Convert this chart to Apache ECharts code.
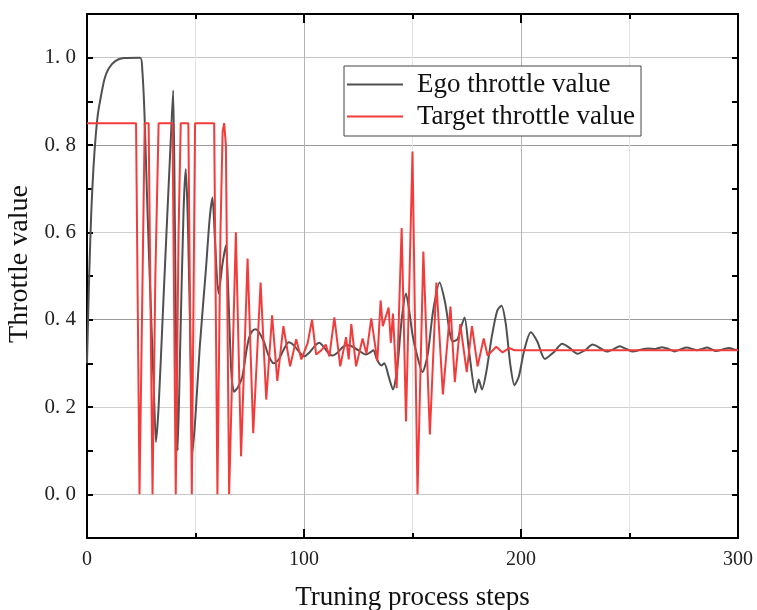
<!DOCTYPE html>
<html>
<head>
<meta charset="utf-8">
<script src="https://cdn.jsdelivr.net/npm/echarts@6/dist/echarts.min.js"></script>
<style>html,body{margin:0;padding:0;background:#fff;}#c{width:757px;height:610px;}</style>
</head>
<body>
<div id="c"></div>
<script>
// ---- data ----
const egoSteps = [0,1,2,3,4,5,6,8,10,13,17,24.5,25.5,26.5,27.8,29.4,30.8,31.8,33,35,37,38.5,39.7,40.5,41.8,43,44.5,45.5,46.5,47.8,48.5,50,52,54.8,56.5,57.8,59,60.6,62.5,64,65.2,66.5,67.8,69.5,71.6,73.5,74.8,76.3,77.8,79.4,81.5,83.5,86,88.5,91,93,95.5,98,100,102.5,105,107,109.5,111.5,113,115.5,118,120,122.5,125,128.6,130.5,132,133.5,135.6,137,139,141,143,145,147,148.5,150,152,154.6,157,159.5,162.5,165,168.5,170.7,172.5,174,176,179,180.5,182,184,186.5,189,191,193,195,197,199,201.5,204.5,207.5,211,215,219,222.5,226,229.5,233,236.5,239.5,242.5,245.5,248.5,251.6,255,258.5,262,265,268,270.8,273.5,276.4,279,281,283.5,285.6,288,290,293,296,298,300];
const egoValues = [0.30,0.50,0.65,0.75,0.82,0.87,0.90,0.95,0.975,0.992,0.999,1.0,0.97,0.87,0.66,0.43,0.24,0.12,0.20,0.42,0.64,0.80,0.925,0.62,0.10,0.35,0.65,0.745,0.62,0.30,0.09,0.18,0.34,0.515,0.63,0.68,0.58,0.46,0.53,0.57,0.45,0.28,0.235,0.245,0.27,0.33,0.36,0.375,0.378,0.37,0.35,0.32,0.30,0.31,0.335,0.348,0.34,0.325,0.316,0.325,0.34,0.347,0.335,0.322,0.318,0.325,0.338,0.342,0.338,0.33,0.32,0.325,0.33,0.31,0.295,0.30,0.27,0.24,0.29,0.40,0.46,0.42,0.366,0.32,0.28,0.32,0.42,0.485,0.44,0.35,0.355,0.385,0.405,0.33,0.233,0.263,0.24,0.28,0.36,0.42,0.432,0.39,0.30,0.25,0.27,0.33,0.371,0.35,0.31,0.325,0.345,0.335,0.322,0.33,0.343,0.335,0.327,0.332,0.339,0.333,0.327,0.331,0.334,0.333,0.337,0.333,0.327,0.332,0.336,0.333,0.33,0.333,0.336,0.332,0.328,0.332,0.335,0.332,0.331];

const targetSteps = [0,22.6,24.2,26.6,28.4,30.2,31.5,33,39.4,40.9,42.2,43.2,46.7,48.3,49.8,58.6,60.1,61.5,62.5,63.2,64,65.5,68.6,71,74,76.6,80,82.6,85.3,87.7,90.5,93.6,96.4,98.8,101.7,103.7,105.6,108,110,111.7,114,116.7,119.4,120.6,121.8,124,127,128.8,131,133.8,135.3,136.3,139,140,141,142.7,145,147,150,152.3,155,158,161,164,167.5,169.5,172,175,177.4,180,182.8,184.6,188.6,191.5,194.5,197,300];
const targetValues = [0.85,0.85,0,0.85,0.85,0,0.5,0.85,0.85,0,0.6,0.85,0.85,0,0.85,0.85,0,0.6,0.83,0.85,0.8,0,0.6,0.087,0.54,0.14,0.485,0.217,0.41,0.26,0.385,0.293,0.355,0.309,0.347,0.40,0.32,0.33,0.343,0.316,0.405,0.293,0.36,0.309,0.39,0.293,0.357,0.322,0.403,0.305,0.444,0.385,0.428,0.347,0.414,0.243,0.61,0.167,0.785,0,0.556,0.137,0.485,0.229,0.43,0.257,0.39,0.28,0.385,0.293,0.357,0.318,0.338,0.325,0.335,0.33,0.33];

const xTicks = [0, 100, 200, 300];
const yTicks = [0.0, 0.2, 0.4, 0.6, 0.8, 1.0];
const seriesNames = ['Ego throttle value', 'Target throttle value'];

const FONT = '"Liberation Serif", "DejaVu Serif", serif';
const chart = echarts.init(document.getElementById('c'), null, {renderer: 'canvas'});

function yLabel(v) {
  const r = Math.round(v * 10) / 10;
  if (!yTicks.some(t => Math.abs(t - r) < 1e-6)) return '';
  return r.toFixed(1).replace('.', '. ');
}
// grid line colours per 0.1 tick (-0.1 .. 1.1): only at the labelled values
const yGridColors = ['rgba(0,0,0,0)','#c8c8c8','rgba(0,0,0,0)','#cfcfcf','rgba(0,0,0,0)','#9a9a9a','rgba(0,0,0,0)','#cfcfcf','rgba(0,0,0,0)','#9a9a9a','rgba(0,0,0,0)','#c4c4c4','rgba(0,0,0,0)'];

const xBase = {
  type: 'value', min: xTicks[0], max: xTicks[xTicks.length - 1], interval: 100,
  axisLine: {show: true, onZero: false, lineStyle: {color: '#000', width: 2}},
  axisTick: {show: true, inside: true, length: 9, lineStyle: {color: '#000', width: 2}},
  minorTick: {show: true, splitNumber: 2, length: 5, lineStyle: {color: '#000', width: 2}}
};
const yBase = {
  type: 'value', min: -0.1, max: 1.1, interval: 0.1,
  axisLine: {show: true, onZero: false, lineStyle: {color: '#000', width: 2}},
  axisTick: {show: true, inside: true, length: 6, lineStyle: {color: '#000', width: 2}}
};

chart.setOption({
  backgroundColor: '#fff',
  animation: false,
  grid: {left: 87, right: 19, top: 14, bottom: 72, containLabel: false, outerBoundsMode: 'none'},
  legend: {
    orient: 'vertical', left: 344, top: 66,
    data: seriesNames,
    icon: 'rect',
    itemWidth: 56, itemHeight: 2, itemGap: 5,
    padding: [5, 6, 6, 3],
    borderColor: '#444', borderWidth: 1, backgroundColor: '#fff',
    textStyle: {fontFamily: FONT, fontSize: 27, color: '#111', padding: [0, 0, 0, 9], lineHeight: 27}
  },
  xAxis: [
    Object.assign({}, xBase, {
      position: 'bottom',
      name: 'Truning process steps', nameLocation: 'middle', nameGap: 46,
      nameTextStyle: {fontFamily: FONT, fontSize: 27, color: '#111'},
      axisLabel: {show: true, margin: 12, fontFamily: FONT, fontSize: 20, color: '#222'},
      splitLine: {show: true, lineStyle: {color: '#b4b4b4', width: 1}},
      minorSplitLine: {show: true, lineStyle: {color: '#e4e4e4', width: 1}}
    }),
    Object.assign({}, xBase, {
      position: 'top', axisLabel: {show: false},
      splitLine: {show: false}, minorSplitLine: {show: false}
    })
  ],
  yAxis: [
    Object.assign({}, yBase, {
      position: 'left',
      name: 'Throttle value', nameLocation: 'middle', nameGap: 50,
      nameTextStyle: {fontFamily: FONT, fontSize: 28, color: '#111', padding: [0, 0, 0, 24]},
      axisLabel: {show: true, margin: 11, fontFamily: FONT, fontSize: 21, color: '#222', formatter: yLabel},
      splitLine: {show: true, lineStyle: {color: yGridColors, width: 1}}
    }),
    Object.assign({}, yBase, {
      position: 'right', axisLabel: {show: false}, splitLine: {show: false}
    })
  ],
  series: [
    {
      name: seriesNames[0], type: 'line', xAxisIndex: 0, yAxisIndex: 0,
      data: egoSteps.map((s, i) => [s, egoValues[i]]),
      symbol: 'none', showSymbol: false, smooth: 0.25,
      lineStyle: {color: '#505050', width: 2},
      itemStyle: {color: '#505050'}
    },
    {
      name: seriesNames[1], type: 'line', xAxisIndex: 0, yAxisIndex: 0,
      data: targetSteps.map((s, i) => [s, targetValues[i]]),
      symbol: 'none', showSymbol: false, smooth: false,
      lineStyle: {color: '#f23c3c', width: 2},
      itemStyle: {color: '#f23c3c'}
    }
  ]
});
</script>
</body>
</html>
